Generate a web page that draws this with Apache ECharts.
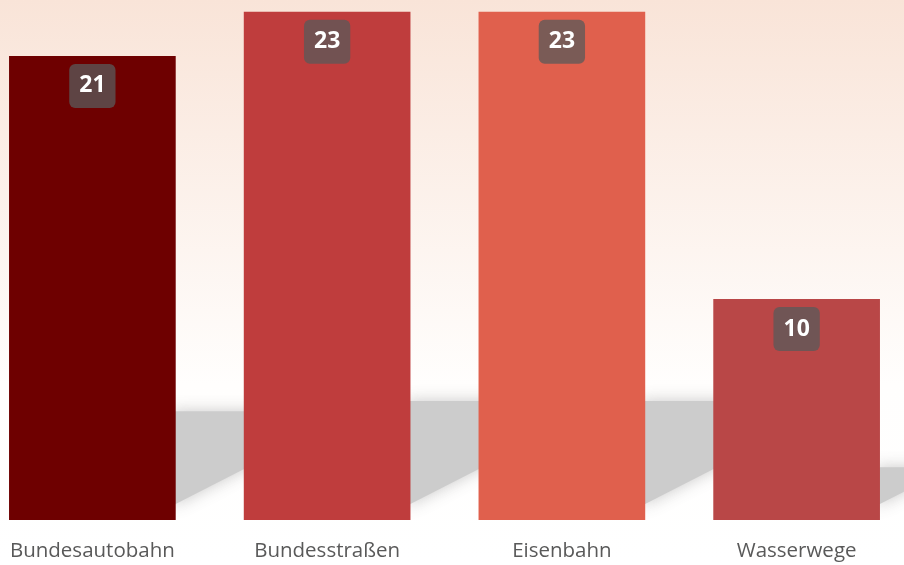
<!DOCTYPE html>
<html>
<head>
<meta charset="utf-8">
<script src="https://cdn.jsdelivr.net/npm/echarts@6/dist/echarts.min.js"></script>
<style>
  html, body { margin: 0; padding: 0; }
  #chart { width: 904px; height: 565px; }
</style>
</head>
<body>
<div id="chart"></div>
<script>
const categories = ["Bundesautobahn", "Bundesstraßen", "Eisenbahn", "Wasserwege"];
const values = [21, 23, 23, 10];
const barColors = ["#6e0000", "#bf3d3d", "#e0604d", "#b94747"];

const chart = echarts.init(document.getElementById("chart"));

// soft floor shadow to the right of every bar
function shadowItem(params, api) {
  const top = api.coord([api.value(0), api.value(1)]);
  const base = api.coord([api.value(0), 0]);
  const barW = api.size([1, 0])[0] * 0.71;
  const h = base[1] - top[1];
  const x0 = top[0] + barW / 2 - 4;
  const sh = h * 0.23 + 2;
  const w = 90;
  return {
    type: "polygon",
    shape: {
      points: [
        [x0, base[1] - sh],
        [x0 + w, base[1] - sh],
        [x0 + w, base[1] - 60],
        [x0, base[1] - 14]
      ]
    },
    style: {
      fill: "#cccccc",
      shadowBlur: 16,
      shadowColor: "rgba(195,195,195,0.9)"
    }
  };
}

chart.setOption({
  backgroundColor: new echarts.graphic.LinearGradient(0, 0, 0, 1, [
    { offset: 0, color: "#f9e4d8" },
    { offset: 0.68, color: "#fffefd" },
    { offset: 1, color: "#ffffff" }
  ]),
  grid: { left: -25, right: -10, top: -32.5, bottom: 45, outerBoundsMode: "none", containLabel: false },
  xAxis: {
    type: "category",
    data: categories,
    axisLine: { show: false },
    axisTick: { show: false },
    axisLabel: {
      color: "#595959",
      fontFamily: "Open Sans",
      fontSize: 20.5,
      margin: 21
    }
  },
  yAxis: {
    type: "value",
    min: 0,
    max: 25,
    show: false,
    splitLine: { show: false }
  },
  series: [
    {
      type: "custom",
      renderItem: shadowItem,
      data: values.map((v, i) => [i, v]),
      z: 1,
      silent: true
    },
    {
      type: "bar",
      data: values.map((v, i) => ({ value: v, itemStyle: { color: barColors[i] } })),
      barWidth: "71%",
      z: 3,
      label: {
        show: true,
        position: "insideTop",
        distance: 8,
        formatter: "{c}",
        color: "#ffffff",
        fontFamily: "Open Sans",
        fontWeight: "bold",
        fontSize: 23,
        lineHeight: 24,
        backgroundColor: "rgba(90,90,90,0.76)",
        borderRadius: 6,
        padding: [10, 10, 10, 10]
      }
    }
  ]
});
</script>
</body>
</html>
